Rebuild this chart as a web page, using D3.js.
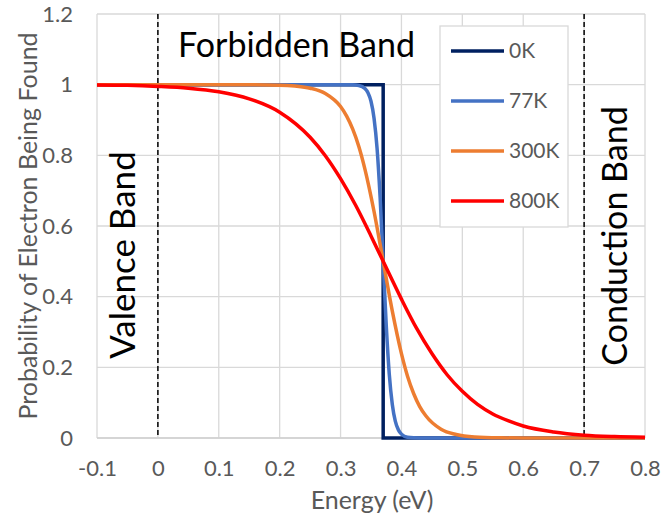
<!DOCTYPE html>
<html>
<head>
<meta charset="utf-8">
<script src="https://cdn.jsdelivr.net/npm/d3@7"></script>
<style>
  body { margin: 0; background: #fff; }
  text { font-family: Lato, "Open Sans", sans-serif; }
</style>
</head>
<body>
<div id="chart"></div>
<script>
// values
var seriesNames = ['0K', '77K', '300K', '800K'];
var seriesColors = ['#002060', '#4472C4', '#ED7D31', '#FF0000'];

var energy0K = [-0.1, 0.37, 0.37, 0.8];
var prob0K = [1, 1, 0, 0];

var energy77K = [-0.1, 0.3, 0.32, 0.33, 0.34, 0.345, 0.35, 0.355, 0.36, 0.365, 0.37,
  0.375, 0.38, 0.385, 0.39, 0.395, 0.4, 0.41, 0.42, 0.44, 0.8];
var prob77K = [1, 1, 0.9995, 0.9976, 0.989, 0.977, 0.953, 0.905, 0.819, 0.68, 0.5,
  0.32, 0.181, 0.095, 0.047, 0.023, 0.011, 0.002, 0.0005, 0, 0];

var energy300K = [-0.1, 0, 0.1, 0.15, 0.2, 0.225, 0.25, 0.275, 0.3, 0.31, 0.32, 0.33, 0.34,
  0.355, 0.37, 0.385, 0.4, 0.41, 0.42, 0.43, 0.44, 0.465, 0.49, 0.52, 0.56, 0.6, 0.7, 0.8];
var prob300K = [1, 1, 1, 0.9998, 0.9986, 0.996, 0.99, 0.975, 0.938, 0.911, 0.874, 0.825, 0.761,
  0.641, 0.5, 0.359, 0.239, 0.175, 0.126, 0.089, 0.063, 0.025, 0.01, 0.003, 0.0006, 0.0001, 0, 0];

var energy800K = [-0.1, -0.05, 0, 0.05, 0.1, 0.15, 0.2, 0.25, 0.275, 0.3, 0.325, 0.35, 0.37,
  0.4, 0.425, 0.45, 0.475, 0.5, 0.525, 0.55, 0.575, 0.6, 0.65, 0.7, 0.75, 0.8];
var prob800K = [0.999, 0.998, 0.995, 0.99, 0.98, 0.96, 0.922, 0.851, 0.799, 0.734, 0.658, 0.572, 0.5,
  0.393, 0.31, 0.239, 0.179, 0.132, 0.095, 0.068, 0.049, 0.034, 0.017, 0.008, 0.004, 0.002];

var xTicks = [-0.1, 0, 0.1, 0.2, 0.3, 0.4, 0.5, 0.6, 0.7, 0.8];
var yTicks = [0, 0.2, 0.4, 0.6, 0.8, 1, 1.2];
var bandEdges = [0, 0.7];

var WIDTH = 667, HEIGHT = 521;
var margin = {top: 14, right: 22, bottom: 83, left: 97};

var svg = d3.select('#chart').append('svg')
  .attr('width', WIDTH)
  .attr('height', HEIGHT);

var x = d3.scaleLinear().domain([-0.1, 0.8]).range([margin.left, WIDTH - margin.right]);
var y = d3.scaleLinear().domain([0, 1.2]).range([HEIGHT - margin.bottom, margin.top]);

// plain hyphen minus like the original, not the unicode minus
function fmt(d) { return String(+d.toFixed(1)); }

// grid
var grid = svg.append('g').attr('class', 'grid');
grid.selectAll('line.v').data(xTicks).enter().append('line')
  .attr('x1', function(d) { return x(d); })
  .attr('x2', function(d) { return x(d); })
  .attr('y1', y(0)).attr('y2', y(1.2))
  .attr('stroke', '#d9d9d9').attr('stroke-width', 1.3);
grid.selectAll('line.h').data(yTicks).enter().append('line')
  .attr('x1', x(-0.1)).attr('x2', x(0.8))
  .attr('y1', function(d) { return y(d); })
  .attr('y2', function(d) { return y(d); })
  .attr('stroke', '#d9d9d9').attr('stroke-width', 1.3);

// axes (labels only, lines come from the grid)
var xAxis = svg.append('g')
  .attr('transform', 'translate(0,' + y(0) + ')')
  .call(d3.axisBottom(x).tickValues(xTicks).tickSize(0).tickPadding(22).tickFormat(fmt));
var yAxis = svg.append('g')
  .attr('transform', 'translate(' + x(-0.1) + ',0)')
  .call(d3.axisLeft(y).tickValues(yTicks).tickSize(0).tickPadding(24).tickFormat(fmt));
[xAxis, yAxis].forEach(function(a) {
  a.select('.domain').remove();
  a.selectAll('text')
    .attr('fill', '#595959')
    .style('font-size', '22px')
    .style('font-family', 'Lato, sans-serif');
});
svg.append('line')
  .attr('x1', x(-0.1)).attr('x2', x(0.8))
  .attr('y1', y(0)).attr('y2', y(0))
  .attr('stroke', '#d0d0d0').attr('stroke-width', 1.5);

// axis titles
svg.append('text')
  .attr('x', (x(-0.1) + x(0.8)) / 2 + 1).attr('y', 509)
  .attr('text-anchor', 'middle')
  .attr('fill', '#595959').style('font-size', '25px')
  .text('Energy (eV)');
svg.append('text')
  .attr('transform', 'translate(37,' + 226 + ') rotate(-90)')
  .attr('text-anchor', 'middle')
  .attr('fill', '#595959').style('font-size', '25px')
  .text('Probability of Electron Being Found');

// band edges
svg.selectAll('line.edge').data(bandEdges).enter().append('line')
  .attr('x1', function(d) { return x(d); })
  .attr('x2', function(d) { return x(d); })
  .attr('y1', y(1.2)).attr('y2', y(0))
  .attr('stroke', '#000').attr('stroke-width', 1.5)
  .attr('stroke-dasharray', '5,3');

// band labels
svg.append('text')
  .attr('x', 178).attr('y', 57)
  .attr('fill', '#000').style('font-size', '34px')
  .text('Forbidden Band');
svg.append('text')
  .attr('transform', 'translate(135,255) rotate(-90)')
  .attr('text-anchor', 'middle')
  .attr('fill', '#000').style('font-size', '35px')
  .text('Valence Band');
svg.append('text')
  .attr('transform', 'translate(627,236) rotate(-90)')
  .attr('text-anchor', 'middle')
  .attr('fill', '#000').style('font-size', '34px')
  .text('Conduction Band');

// curves
var series = [
  {name: seriesNames[0], color: seriesColors[0], e: energy0K, p: prob0K, curve: d3.curveLinear},
  {name: seriesNames[1], color: seriesColors[1], e: energy77K, p: prob77K, curve: d3.curveMonotoneX},
  {name: seriesNames[2], color: seriesColors[2], e: energy300K, p: prob300K, curve: d3.curveMonotoneX},
  {name: seriesNames[3], color: seriesColors[3], e: energy800K, p: prob800K, curve: d3.curveMonotoneX}
];

var lines = svg.append('g').attr('class', 'lines');
series.forEach(function(s) {
  var pts = s.e.map(function(v, i) { return [v, s.p[i]]; });
  var line = d3.line()
    .x(function(d) { return x(d[0]); })
    .y(function(d) { return y(d[1]); })
    .curve(s.curve);
  lines.append('path')
    .datum(pts)
    .attr('d', line)
    .attr('fill', 'none')
    .attr('stroke', s.color)
    .attr('stroke-width', 3.5)
    .attr('stroke-linejoin', 'miter');
});

// legend
var legend = svg.append('g').attr('class', 'legend');
legend.append('rect')
  .attr('x', 440).attr('y', 26).attr('width', 128).attr('height', 201)
  .attr('fill', '#fff').attr('stroke', '#d9d9d9').attr('stroke-width', 1.3);
var item = legend.selectAll('g.item').data(series).enter().append('g')
  .attr('transform', function(d, i) { return 'translate(451,' + (51 + i * 50) + ')'; });
item.append('line')
  .attr('x1', 0).attr('x2', 53)
  .attr('stroke', function(d) { return d.color; })
  .attr('stroke-width', 3.5);
item.append('text')
  .attr('x', 58).attr('dy', '0.35em')
  .attr('fill', '#595959').style('font-size', '21px')
  .text(function(d) { return d.name; });
</script>
</body>
</html>
